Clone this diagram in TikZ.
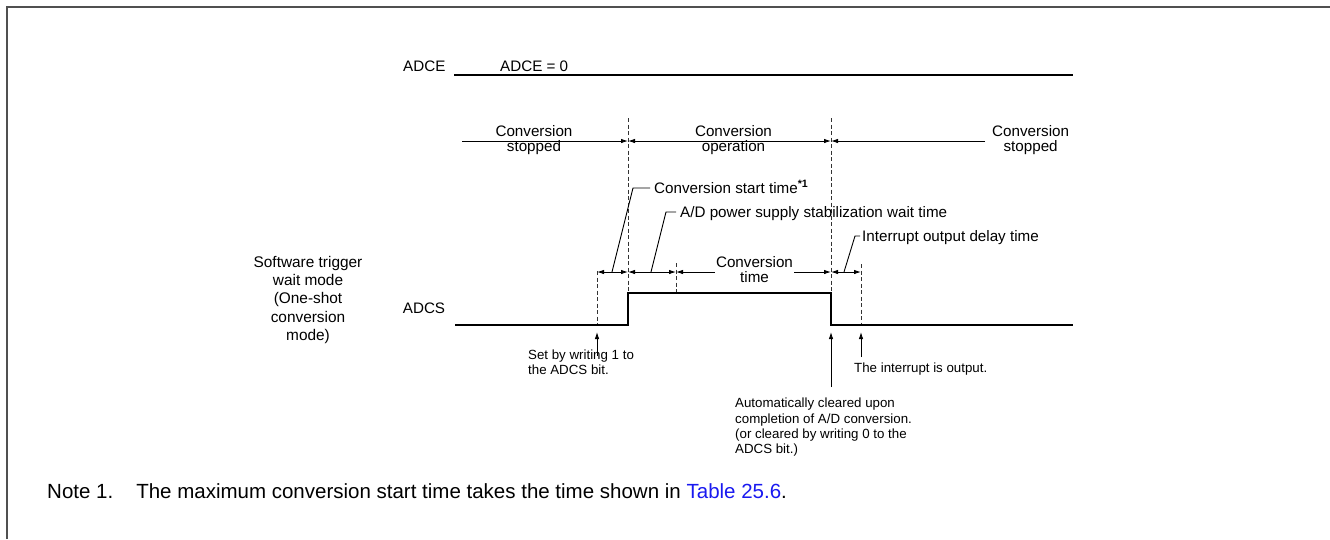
\documentclass[tikz,border=0pt]{standalone}
\usepackage{fontspec}
\setmainfont{Liberation Sans}
\usepackage{xcolor}
\usetikzlibrary{arrows.meta,positioning}
\definecolor{linkblue}{RGB}{25,25,240}
\definecolor{framegray}{RGB}{80,80,80}

\begin{document}
\begin{tikzpicture}[x=1pt,y=-1pt,
    lbl/.style={font=\fontsize{15.2}{15}\selectfont,inner sep=0pt,align=center},
    evtext/.style={font=\fontsize{13.3}{15.2}\selectfont,inner sep=0pt,align=left},
    wave/.style={line width=2pt},
    guide/.style={line width=0.9pt,dash pattern=on 4pt off 2.5pt,black!80},
    span/.style={line width=0.9pt,{Latex[length=7pt,width=4.5pt]}-{Latex[length=7pt,width=4.5pt]}},
    onetip/.style={line width=0.9pt,-{Latex[length=7pt,width=4.5pt]}},
    leader/.style={line width=0.9pt}]

  \useasboundingbox (0,0) rectangle (1330,539);
  \draw[line width=2pt,framegray] (7,539) -- (7,7) -- (1330,7);

  % ADCE signal
  \node[lbl,anchor=base west] (adce) at (403,71) {ADCE};
  \node[lbl,anchor=base west] (adceval) at (500,71) {ADCE = 0};
  \coordinate (adceA) at (454,75);
  \coordinate (adceB) at (1073,75);
  \draw[wave] (adceA) -- (adceB);

  % dashed guides
  \coordinate (gs) at (597,271); \coordinate (gsb) at (597,325);
  \coordinate (gr) at (628,118);
  \coordinate (gw) at (676,263); \coordinate (gwb) at (676,293);
  \coordinate (gf) at (831,118);
  \coordinate (gi) at (861,264); \coordinate (gib) at (861,325);

  % ADCS signal
  \node[lbl] (adcs) at (424,308) {ADCS};
  \coordinate (lo0) at (455,325);
  \coordinate (up0) at (628,325);
  \coordinate (up1) at (628,293);
  \coordinate (dn1) at (831,293);
  \coordinate (dn0) at (831,325);
  \coordinate (lo1) at (1073,325);
  \draw[guide] (gs) -- (gsb);
  \draw[guide] (gr) -- (up1);
  \draw[guide] (gw) -- (gwb);
  \draw[guide] (gf) -- (dn1);
  \draw[guide] (gi) -- (gib);
  \draw[wave] (lo0) -- (up0) -- (up1) -- (dn1) -- (dn0) -- (lo1);

  \node[lbl,font=\fontsize{15.4}{18.4}\selectfont] (mode) at (308,300) {Software trigger\\wait mode\\(One-shot\\conversion\\mode)};

  % conversion states
  \node[lbl] (stopL) at (534,140) {Conversion\\stopped};
  \node[lbl] (oper) at (733.5,140) {Conversion\\operation};
  \node[lbl,anchor=west] (stopR) at (992,140) {Conversion\\stopped};
  \coordinate (sL) at (462,141); \coordinate (sR) at (985,141);
  \coordinate (rA) at (628,141); \coordinate (fA) at (831,141);
  \draw[onetip] (sL) -- (rA);
  \draw[span] (rA) -- (fA);
  \draw[onetip] (sR) -- (fA);

  % timing spans
  \coordinate (tS) at (597,272); \coordinate (tR) at (628,272);
  \coordinate (tW) at (676,272); \coordinate (tF) at (831,272);
  \coordinate (tI) at (861,272);
  \draw[span] (tS) -- (tR);
  \draw[span] (tR) -- (tW);
  \draw[span] (tW) -- (tF);
  \draw[span] (tF) -- (tI);
  \node[lbl,fill=white,inner xsep=1.5pt] (convt) at (754.5,270) {Conversion\\time};

  % leaders
  \node[lbl,anchor=base west] (start) at (654,193) {Conversion start time\textsuperscript{\bfseries *1}};
  \node[lbl,anchor=base west] (stab) at (680,217) {A/D power supply stabilization wait time};
  \node[lbl,anchor=base west] (irq) at (862,241) {Interrupt output delay time};
  \coordinate (k1a) at (612,272); \coordinate (k1b) at (633,188); \coordinate (k1c) at (650,188);
  \coordinate (k2a) at (651,272); \coordinate (k2b) at (666,212); \coordinate (k2c) at (676,212);
  \coordinate (k3a) at (844,272); \coordinate (k3b) at (855,236); \coordinate (k3c) at (860,236);
  \draw[leader] (k1a) -- (k1b) -- (k1c);
  \draw[leader] (k2a) -- (k2b) -- (k2c);
  \draw[leader] (k3a) -- (k3b) -- (k3c);

  % events
  \coordinate (aS) at (597,356); \coordinate (aSt) at (597,332);
  \coordinate (aF) at (831,387); \coordinate (aFt) at (831,332);
  \coordinate (aI) at (861,357); \coordinate (aIt) at (861,332);
  \draw[onetip] (aS) -- (aSt);
  \draw[onetip] (aF) -- (aFt);
  \draw[onetip] (aI) -- (aIt);
  \node[evtext,anchor=north west] (setcap) at (528,349.5) {Set by writing 1 to\\the ADCS bit.};
  \node[evtext,anchor=north west] (clrcap) at (735,398) {Automatically cleared upon\\completion of A/D conversion.\\(or cleared by writing 0 to the\\ADCS bit.)};
  \node[evtext,anchor=base west] (irqcap) at (854,372) {The interrupt is output.};

  \node[anchor=base west,inner sep=0pt,font=\fontsize{20.5}{24}\selectfont] (note1) at (47,498) {Note 1.\hspace{23pt}The maximum conversion start time takes the time shown in \textcolor{linkblue}{Table 25.6}.};
\end{tikzpicture}
\end{document}
